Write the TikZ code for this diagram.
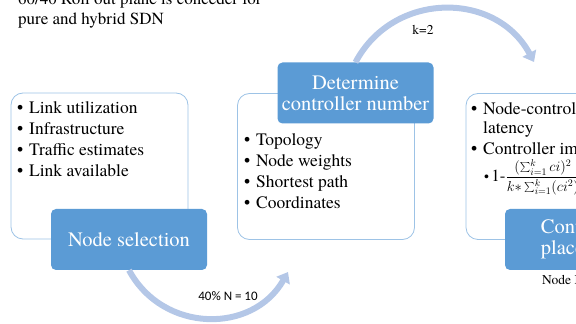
\documentclass[tikz,border=0pt]{standalone}
\usepackage{fontspec}
\setmainfont{texgyretermes}[Extension=.otf, UprightFont=*-regular, BoldFont=*-bold, ItalicFont=*-italic, BoldItalicFont=*-bolditalic]
\newfontfamily\labelfont{Carlito}
\usetikzlibrary{arrows.meta}
\definecolor{boxline}{HTML}{9DC3E6}
\definecolor{boxblue}{HTML}{5B9BD5}
\definecolor{flowblue}{HTML}{B4C7E7}
\newcommand{\bul}{\makebox[12pt][l]{\textbullet}}
\tikzset{
  listbox/.style={draw=boxline, line width=0.8pt, fill=white, rounded corners=12pt, minimum width=177pt, minimum height=146pt, inner sep=0pt},
  titlebox/.style={fill=boxblue, rounded corners=5pt, minimum width=156pt, minimum height=61pt, text=white, align=center, font=\fontsize{20.5}{21}\selectfont, inner sep=0pt},
  listtext/.style={anchor=north west, align=left, inner sep=0pt, font=\fontsize{17.5}{21}\selectfont},
  flow/.style={flowblue, line width=6pt, -{Triangle[width=15pt,length=10pt]}}
}
\begin{document}
\begin{tikzpicture}[x=1pt, y=1pt]
\useasboundingbox (0,0) rectangle (576,324);
\clip (0,0) rectangle (576,324);

% Note at the top
\node[listtext, font=\fontsize{17}{20}\selectfont] (note) at (18,331) {60/40 Roll out plane is conceder for\\pure and hybrid SDN};

% List boxes
\node[listbox] (b1) at (99.5,158) {};
\node[listbox] (b2) at (326,157.5) {};
\node[listbox] (b3) at (554.5,157.5) {};

% Step boxes
\node[titlebox] (sel) at (129,84.5) {Node selection};
\node[titlebox] (det) at (355.5,231) {Determine\\controller number};
\node[titlebox] (plc) at (583,84.5) {Controller\\placement};

% Lists
\node[listtext] (t1) at (17,223) {\bul Link utilization\\\bul Infrastructure\\\bul Traffic estimates\\\bul Link available};
\node[listtext] (t2) at (244,191) {\bul Topology\\\bul Node weights\\\bul Shortest path\\\bul Coordinates};
\node[listtext] (t3) at (471,222) {\bul Node-controller\\[-2pt]\hspace*{12pt}latency\\\bul Controller imbalance};
\node[anchor=west, inner sep=0pt, font=\fontsize{14}{16}\selectfont] (f3) at (484,147) {\textbullet\,{\fontsize{17}{17}\selectfont 1-}$\displaystyle\frac{(\sum\nolimits_{i=1}^{k} ci)^2}{k{*}\sum\nolimits_{i=1}^{k}(ci^2)}$};

% Arrows
\coordinate (e1) at (288,52);
\coordinate (e2) at (534,262);
\draw[flow] (sel.south) to[bend right=61, looseness=1.15] (e1);
\draw[flow] (det.north) to[bend left=62, looseness=1.16] (e2);

% Labels
\node[font=\labelfont\fontsize{13}{15}\selectfont] (nlab) at (228,28) {40\% N = 10};
\node[font=\fontsize{13.5}{15}\selectfont] (klab) at (423,294) {k=2};
\node[anchor=west, inner sep=0pt, font=\fontsize{13.5}{15}\selectfont] (nnote) at (542,44) {Node N};
\end{tikzpicture}
\end{document}
